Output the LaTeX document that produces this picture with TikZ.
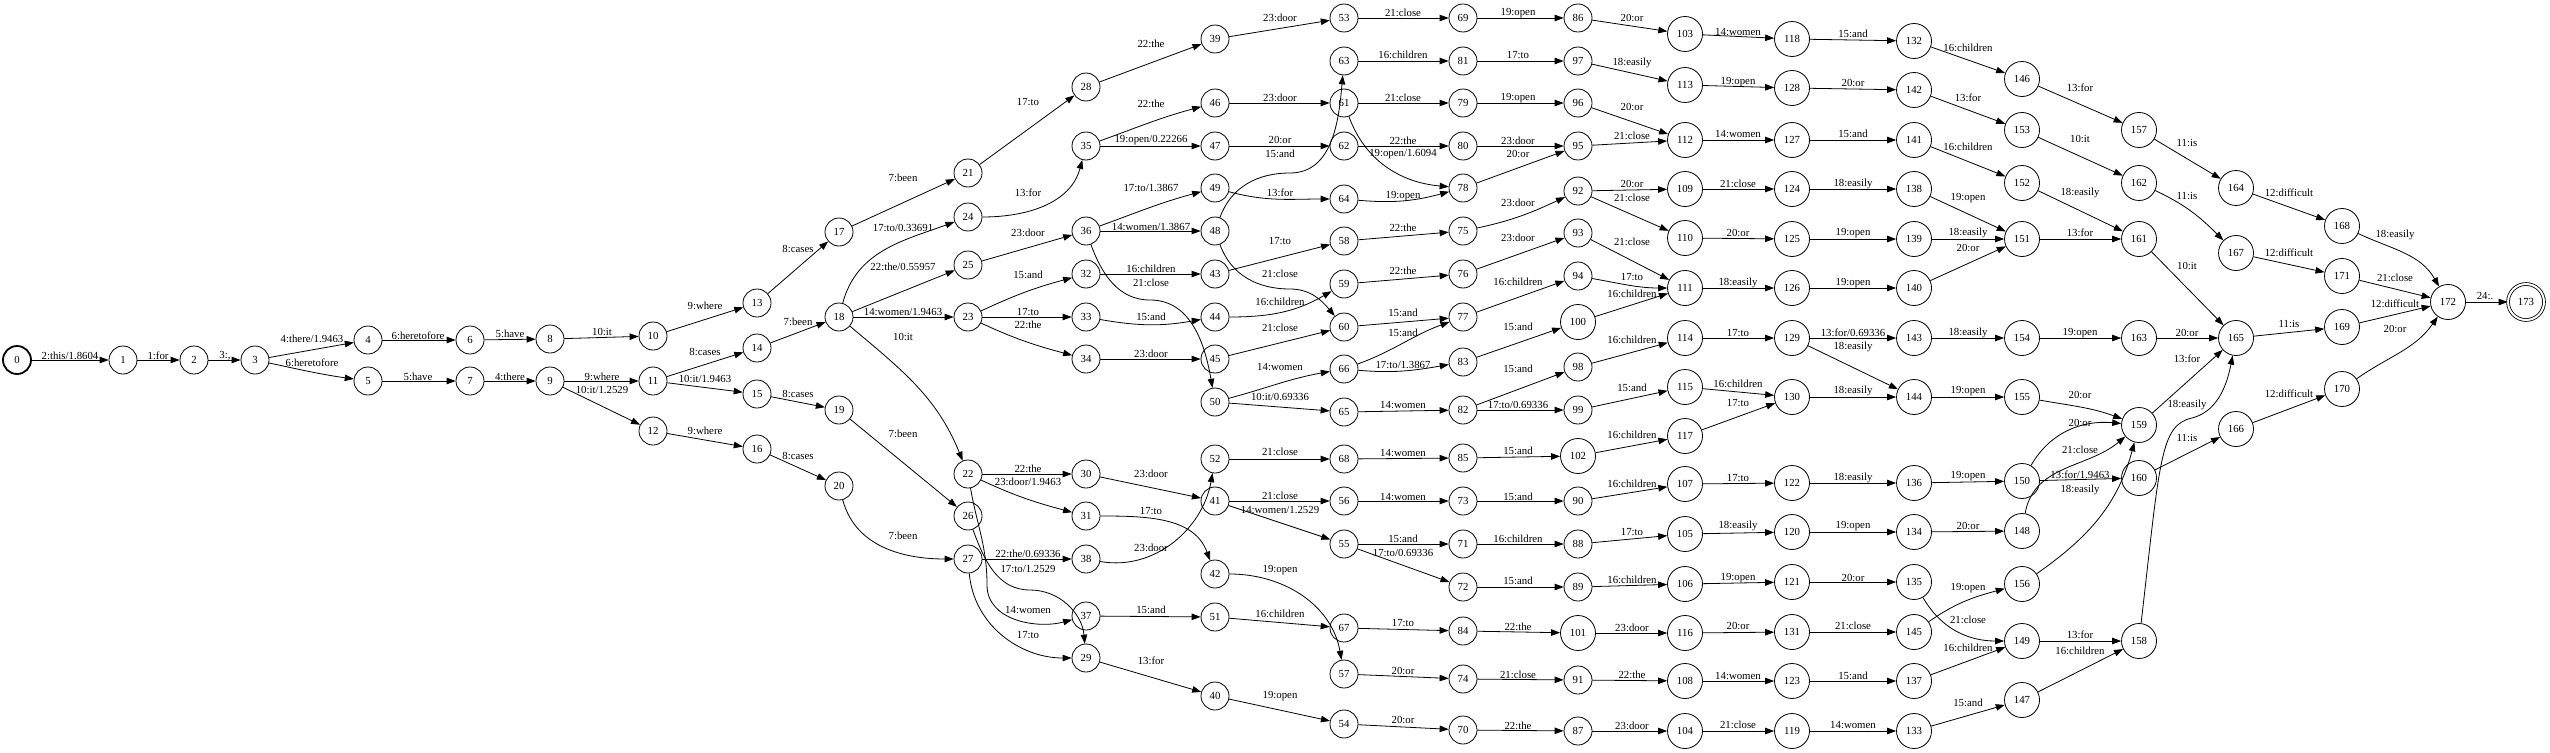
\documentclass[tikz,border=0pt]{standalone}
\usepackage{fontspec}
\setmainfont{Liberation Serif}
\usetikzlibrary{arrows.meta}
\newcommand\mkst[3]{\node[st] (n#1) at (#2,-#3) {#1};}
\newcommand\mkbig[3]{\node[st,minimum size=35pt] (n#1) at (#2,-#3) {#1};}
\newcommand\mklab[5]{\node[lab] (l#1x#2) at (#3,-#4) {#5};}
\newcommand\mked[5]{\draw[e] (n#1) -- (n#2); \mklab{#1}{#2}{#3}{#4}{#5}}
\newcommand\mkcur[6]{\draw[e] (n#1) to[#6] (n#2); \mklab{#1}{#2}{#3}{#4}{#5}}
\begin{document}
\begin{tikzpicture}[x=1pt,y=1pt,
  st/.style={circle,draw,line width=0.8pt,minimum size=28pt,inner sep=0pt,font=\fontsize{10.8}{12}\selectfont},
  lab/.style={inner sep=0pt,font=\fontsize{10.8}{12}\selectfont},
  e/.style={line width=0.8pt,-{Triangle[length=9pt,width=6.5pt]}}]
\useasboundingbox[fill=white] (0,0) rectangle (2550,-752);
% nodes
\node[st,line width=1.8pt] (n0) at (17,-360) {0};
\mkst{1}{123}{360}\mkst{2}{194}{360}\mkst{3}{255}{360}
\mkst{4}{368}{340}\mkst{5}{368}{381}
\mkst{6}{470}{340}\mkst{7}{470}{381}
\mkst{8}{550}{339}\mkst{9}{550}{381}
\mkst{10}{653}{336}\mkst{11}{653}{381}\mkst{12}{653}{431}
\mkst{13}{757}{303}\mkst{14}{757}{348}\mkst{15}{757}{394}\mkst{16}{757}{449}
\mkst{17}{839}{232}\mkst{18}{839}{317}\mkst{19}{839}{410}\mkst{20}{839}{486}
\mkst{21}{968}{173}\mkst{24}{968}{217}\mkst{25}{968}{265}\mkst{23}{968}{317}
\mkst{22}{968}{474}\mkst{26}{968}{516}\mkst{27}{968}{559}
\mkst{28}{1086}{87}\mkst{35}{1086}{146}\mkst{36}{1086}{231}\mkst{32}{1086}{274}
\mkst{33}{1086}{317}\mkst{34}{1086}{359}\mkst{30}{1086}{474}\mkst{31}{1086}{516}
\mkst{38}{1086}{559}\mkst{37}{1086}{616}\mkst{29}{1086}{658}
\mkst{39}{1215}{39}\mkst{46}{1215}{103}\mkst{47}{1215}{146}\mkst{49}{1215}{188}
\mkst{48}{1215}{231}\mkst{43}{1215}{274}\mkst{44}{1215}{317}\mkst{45}{1215}{359}
\mkst{50}{1215}{402}\mkst{52}{1215}{459}\mkst{41}{1215}{501}\mkst{42}{1215}{574}
\mkst{51}{1215}{617}\mkst{40}{1215}{696}
\mkst{53}{1344}{18}\mkst{63}{1344}{61}\mkst{61}{1344}{103}\mkst{62}{1344}{146}
\mkst{64}{1344}{199}\mkst{58}{1344}{241}\mkst{59}{1344}{284}\mkst{60}{1344}{327}
\mkst{66}{1344}{369}\mkst{65}{1344}{412}\mkst{68}{1344}{459}\mkst{56}{1344}{501}
\mkst{55}{1344}{544}\mkst{67}{1344}{628}\mkst{57}{1344}{674}\mkst{54}{1344}{724}
\mkst{69}{1463}{18}\mkst{81}{1463}{61}\mkst{79}{1463}{103}\mkst{80}{1463}{146}
\mkst{78}{1463}{188}\mkst{75}{1463}{231}\mkst{76}{1463}{274}\mkst{77}{1463}{317}
\mkst{83}{1463}{362}\mkst{82}{1463}{410}\mkst{85}{1463}{458}\mkst{73}{1463}{501}
\mkst{71}{1463}{544}\mkst{72}{1463}{587}\mkst{84}{1463}{631}\mkst{74}{1463}{679}
\mkst{70}{1463}{730}
\mkst{86}{1578}{18}\mkst{97}{1578}{61}\mkst{96}{1578}{103}\mkst{95}{1578}{146}
\mkst{92}{1578}{191}\mkst{93}{1578}{233}\mkst{94}{1578}{276}\mkbig{100}{1578}{322}
\mkst{98}{1578}{367}\mkst{99}{1578}{410}\mkbig{102}{1578}{456}\mkst{90}{1578}{501}
\mkst{88}{1578}{544}\mkst{89}{1578}{587}\mkbig{101}{1578}{633}\mkst{91}{1578}{680}
\mkst{87}{1578}{731}
\mkbig{103}{1685}{34}\mkbig{113}{1685}{85}\mkbig{112}{1685}{140}\mkbig{109}{1685}{189}
\mkbig{110}{1685}{238}\mkbig{111}{1685}{288}\mkbig{114}{1685}{338}\mkbig{115}{1685}{387}
\mkbig{117}{1685}{436}\mkbig{107}{1685}{484}\mkbig{105}{1685}{534}\mkbig{106}{1685}{584}
\mkbig{116}{1685}{633}\mkbig{108}{1685}{681}\mkbig{104}{1685}{731}
\mkbig{118}{1792}{39}\mkbig{128}{1792}{88}\mkbig{127}{1792}{140}\mkbig{124}{1792}{189}
\mkbig{125}{1792}{239}\mkbig{126}{1792}{288}\mkbig{129}{1792}{338}\mkbig{130}{1792}{397}
\mkbig{122}{1792}{483}\mkbig{120}{1792}{532}\mkbig{121}{1792}{582}\mkbig{131}{1792}{632}
\mkbig{123}{1792}{681}\mkbig{119}{1792}{731}
\mkbig{132}{1914}{41}\mkbig{142}{1914}{90}\mkbig{141}{1914}{140}\mkbig{138}{1914}{189}
\mkbig{139}{1914}{239}\mkbig{140}{1914}{288}\mkbig{143}{1914}{338}\mkbig{144}{1914}{397}
\mkbig{136}{1914}{483}\mkbig{134}{1914}{532}\mkbig{135}{1914}{582}\mkbig{145}{1914}{632}
\mkbig{137}{1914}{681}\mkbig{133}{1914}{731}
\mkbig{146}{2022}{79}\mkbig{153}{2022}{130}\mkbig{152}{2022}{183}\mkbig{151}{2022}{239}
\mkbig{154}{2022}{338}\mkbig{155}{2022}{397}\mkbig{150}{2022}{481}\mkbig{148}{2022}{531}
\mkbig{156}{2022}{584}\mkbig{149}{2022}{641}\mkbig{147}{2022}{700}
\mkbig{157}{2139}{130}\mkbig{162}{2139}{183}\mkbig{161}{2139}{239}\mkbig{163}{2139}{338}
\mkbig{159}{2139}{425}\mkbig{160}{2139}{478}\mkbig{158}{2139}{641}
\mkbig{164}{2236}{188}\mkbig{167}{2236}{253}\mkbig{165}{2236}{338}\mkbig{166}{2236}{429}
\mkbig{168}{2342}{226}\mkbig{171}{2342}{276}\mkbig{169}{2342}{327}\mkbig{170}{2342}{389}
\mkbig{172}{2448}{302}
\node[st,minimum size=36pt,double,double distance=2pt] (n173) at (2526,-302) {173};
% edges
\mked{0}{1}{70}{356}{2:this/1.8604}
\mked{1}{2}{158}{356}{1:for}
\mked{2}{3}{225}{356}{3:,}
\mked{3}{4}{312}{339}{4:there/1.9463}
\mkcur{3}{5}{312}{363}{6:heretofore}{out=-12,in=172}
\mked{4}{6}{418}{336}{6:heretofore}
\mked{5}{7}{418}{377}{5:have}
\mked{6}{8}{510}{334}{5:have}
\mked{7}{9}{510}{377}{4:there}
\mked{8}{10}{602}{332}{10:it}
\mked{9}{11}{602}{377}{9:where}
\mked{9}{12}{602}{390}{10:it/1.2529}
\mked{10}{13}{705}{306}{9:where}
\mked{11}{14}{705}{352}{8:cases}
\mked{11}{15}{705}{379}{10:it/1.9463}
\mked{12}{16}{705}{431}{9:where}
\mked{13}{17}{798}{249}{8:cases}
\mked{14}{18}{798}{322}{7:been}
\mked{15}{19}{798}{394}{8:cases}
\mked{16}{20}{798}{456}{8:cases}
\mked{17}{21}{903}{178}{7:been}
\mkcur{18}{24}{903}{228}{17:to/0.33691}{out=75,in=200}
\mked{18}{25}{903}{267}{22:the/0.55957}
\mked{18}{23}{903}{312}{14:women/1.9463}
\mkcur{18}{22}{903}{337}{10:it}{out=-40,in=112}
\mked{19}{26}{903}{434}{7:been}
\mkcur{20}{27}{903}{536}{7:been}{out=-75,in=180}
\mked{21}{28}{1028}{102}{17:to}
\mkcur{24}{35}{1028}{193}{13:for}{out=0,in=-105}
\mked{25}{36}{1028}{233}{23:door}
\mkcur{23}{32}{1028}{275}{15:and}{out=25,in=195}
\mked{23}{33}{1028}{312}{17:to}
\mkcur{23}{34}{1028}{325}{22:the}{out=-25,in=165}
\mked{22}{30}{1028}{469}{22:the}
\mkcur{22}{31}{1028}{482}{23:door/1.9463}{out=-25,in=165}
\mked{27}{38}{1028}{554}{22:the/0.69336}
\draw[e] (n26) to[out=-70,in=180] (1030,-590) to[out=0,in=95] (n29);
\mklab{26}{29}{1028}{569}{17:to/1.2529}
\draw[e] (n22) to[out=-80,in=90] (987,-585) to[out=-90,in=195] (n37);
\mklab{22}{37}{1028}{610}{14:women}
\mkcur{27}{29}{1028}{635}{17:to}{out=-85,in=180}
\mked{28}{39}{1151}{44}{22:the}
\mkcur{35}{46}{1151}{104}{22:the}{out=20,in=195}
\mked{35}{47}{1151}{140}{19:open/0.22266}
\mkcur{36}{49}{1151}{188}{17:to/1.3867}{out=20,in=195}
\mked{36}{48}{1151}{227}{14:women/1.3867}
\mked{32}{43}{1151}{269}{16:children}
\draw[e] (n36) to[out=-70,in=180] (1150,-300) to[out=0,in=100] (n50);
\mklab{36}{50}{1151}{283}{21:close}
\mkcur{33}{44}{1151}{317}{15:and}{out=-10,in=190}
\mked{34}{45}{1151}{354}{23:door}
\mked{30}{41}{1151}{474}{23:door}
\mkcur{31}{42}{1151}{511}{17:to}{out=0,in=110}
\mkcur{38}{52}{1151}{548}{23:door}{out=-10,in=-100}
\mked{37}{51}{1151}{610}{15:and}
\mked{29}{40}{1151}{661}{13:for}
\mked{39}{53}{1280}{18}{23:door}
\mked{46}{61}{1280}{98}{23:door}
\mked{47}{62}{1280}{140}{20:or}
\draw[e] (n48) to[out=70,in=180] (1290,-173) to[out=0,in=-95] (n63);
\mklab{48}{63}{1280}{154}{15:and}
\mkcur{49}{64}{1280}{193}{13:for}{out=-15,in=180}
\mked{43}{58}{1280}{241}{17:to}
\draw[e] (n48) to[out=-70,in=180] (1290,-289) to[out=0,in=130] (n60);
\mklab{48}{60}{1280}{274}{21:close}
\mkcur{44}{59}{1280}{302}{16:children}{out=0,in=210}
\mked{45}{60}{1280}{328}{21:close}
\mkcur{50}{66}{1280}{367}{14:women}{out=15,in=190}
\mked{50}{65}{1280}{397}{10:it/0.69336}
\mked{52}{68}{1280}{452}{21:close}
\mked{41}{56}{1280}{496}{21:close}
\mked{41}{55}{1280}{510}{14:women/1.2529}
\mkcur{42}{57}{1280}{570}{19:open}{out=0,in=100}
\mked{51}{67}{1280}{614}{16:children}
\mked{40}{54}{1280}{696}{19:open}
\mked{53}{69}{1403}{13}{21:close}
\mked{63}{81}{1403}{55}{16:children}
\mked{61}{79}{1403}{98}{21:close}
\mked{62}{80}{1403}{141}{22:the}
\mkcur{61}{78}{1403}{154}{19:open/1.6094}{out=-70,in=175}
\mkcur{64}{78}{1403}{196}{19:open}{out=-5,in=195}
\mked{58}{75}{1403}{228}{22:the}
\mked{59}{76}{1403}{271}{22:the}
\mked{60}{77}{1403}{313}{15:and}
\mkcur{66}{77}{1403}{333}{15:and}{out=20,in=200}
\mkcur{66}{83}{1403}{365}{17:to/1.3867}{out=-5,in=190}
\mked{65}{82}{1403}{405}{14:women}
\mked{68}{85}{1403}{453}{14:women}
\mked{56}{73}{1403}{497}{14:women}
\mked{55}{71}{1403}{539}{15:and}
\mked{55}{72}{1403}{553}{17:to/0.69336}
\mked{67}{84}{1403}{623}{17:to}
\mked{57}{74}{1403}{671}{20:or}
\mked{54}{70}{1403}{720}{20:or}
\mked{69}{86}{1518}{13}{19:open}
\mked{81}{97}{1518}{55}{17:to}
\mked{79}{96}{1518}{98}{19:open}
\mked{80}{95}{1518}{141}{23:door}
\mked{78}{95}{1518}{154}{20:or}
\mkcur{75}{92}{1518}{203}{23:door}{out=12,in=205}
\mked{76}{93}{1518}{238}{23:door}
\mked{77}{94}{1518}{282}{16:children}
\mked{83}{100}{1518}{327}{15:and}
\mked{82}{98}{1518}{369}{15:and}
\mked{82}{99}{1518}{405}{17:to/0.69336}
\mked{85}{102}{1518}{451}{15:and}
\mked{73}{90}{1518}{497}{15:and}
\mked{71}{88}{1518}{539}{16:children}
\mked{72}{89}{1518}{581}{15:and}
\mked{84}{101}{1518}{627}{22:the}
\mked{74}{91}{1518}{675}{21:close}
\mked{70}{87}{1518}{726}{22:the}
\mked{86}{103}{1632}{18}{20:or}
\mked{97}{113}{1632}{63}{18:easily}
\mked{96}{112}{1632}{107}{20:or}
\mked{95}{112}{1632}{136}{21:close}
\mked{92}{109}{1632}{184}{20:or}
\mked{92}{110}{1632}{198}{21:close}
\mked{93}{111}{1632}{242}{21:close}
\mkcur{94}{111}{1632}{277}{17:to}{out=-10,in=180}
\mked{100}{111}{1632}{294}{16:children}
\mked{98}{114}{1632}{340}{16:children}
\mked{99}{115}{1632}{388}{15:and}
\mked{102}{117}{1632}{435}{16:children}
\mked{90}{107}{1632}{484}{16:children}
\mked{88}{105}{1632}{532}{17:to}
\mked{89}{106}{1632}{580}{16:children}
\mked{101}{116}{1632}{628}{23:door}
\mked{91}{108}{1632}{675}{22:the}
\mked{87}{104}{1632}{726}{23:door}
\mked{103}{118}{1738}{32}{14:women}
\mked{113}{128}{1738}{82}{19:open}
\mked{112}{127}{1738}{134}{14:women}
\mked{109}{124}{1738}{184}{21:close}
\mked{110}{125}{1738}{233}{20:or}
\mked{111}{126}{1738}{283}{18:easily}
\mked{114}{129}{1738}{333}{17:to}
\mked{115}{130}{1738}{384}{16:children}
\mked{117}{130}{1738}{403}{17:to}
\mked{107}{122}{1738}{478}{17:to}
\mked{105}{120}{1738}{526}{18:easily}
\mked{106}{121}{1738}{578}{19:open}
\mked{116}{131}{1738}{626}{20:or}
\mked{108}{123}{1738}{676}{14:women}
\mked{104}{119}{1738}{725}{21:close}
\mked{118}{132}{1853}{34}{15:and}
\mked{128}{142}{1853}{83}{20:or}
\mked{127}{141}{1853}{134}{15:and}
\mked{124}{138}{1853}{184}{18:easily}
\mked{125}{139}{1853}{233}{19:open}
\mked{126}{140}{1853}{283}{19:open}
\mked{129}{143}{1853}{333}{13:for/0.69336}
\mked{129}{144}{1853}{347}{18:easily}
\mked{130}{144}{1853}{391}{18:easily}
\mked{122}{136}{1853}{478}{18:easily}
\mked{120}{134}{1853}{526}{19:open}
\mked{121}{135}{1853}{578}{20:or}
\mked{131}{145}{1853}{626}{21:close}
\mked{123}{137}{1853}{676}{15:and}
\mked{119}{133}{1853}{725}{14:women}
\mked{132}{146}{1968}{48}{16:children}
\mked{142}{153}{1968}{98}{13:for}
\mked{141}{152}{1968}{147}{16:children}
\mked{138}{151}{1968}{198}{19:open}
\mked{139}{151}{1968}{233}{18:easily}
\mked{140}{151}{1968}{248}{20:or}
\mked{143}{154}{1968}{333}{18:easily}
\mked{144}{155}{1968}{391}{19:open}
\mked{136}{150}{1968}{476}{19:open}
\mked{134}{148}{1968}{526}{20:or}
\mkcur{145}{156}{1968}{588}{19:open}{out=35,in=195}
\mkcur{135}{149}{1968}{620}{21:close}{out=-60,in=180}
\mked{137}{149}{1968}{648}{16:children}
\mked{133}{147}{1968}{703}{15:and}
\mked{146}{157}{2080}{88}{13:for}
\mked{153}{162}{2080}{139}{10:it}
\mked{152}{161}{2080}{193}{18:easily}
\mked{151}{161}{2080}{233}{13:for}
\mked{154}{163}{2080}{333}{19:open}
\mkcur{155}{159}{2080}{395}{20:or}{out=-10,in=160}
\mkcur{150}{159}{2080}{423}{20:or}{out=60,in=175}
\mkcur{148}{159}{2080}{450}{21:close}{out=80,in=220}
\mked{150}{160}{2080}{475}{13:for/1.9463}
\mkcur{156}{159}{2080}{490}{18:easily}{out=35,in=255}
\mked{149}{158}{2080}{635}{13:for}
\mked{147}{158}{2080}{651}{16:children}
\mked{157}{164}{2187}{143}{11:is}
\mkcur{162}{167}{2187}{196}{11:is}{out=-25,in=135}
\mked{161}{165}{2187}{266}{10:it}
\mked{163}{165}{2187}{333}{20:or}
\mked{159}{165}{2187}{359}{13:for}
\draw[e] (n158) .. controls (2160,-460) and (2160,-425) .. (2192,-418) .. controls (2215,-412) and (2226,-390) .. (n165);
\mklab{158}{165}{2187}{405}{18:easily}
\mked{160}{166}{2187}{438}{11:is}
\mked{164}{168}{2289}{193}{12:difficult}
\mked{167}{171}{2289}{253}{12:difficult}
\mked{165}{169}{2289}{324}{11:is}
\mked{166}{170}{2289}{394}{12:difficult}
\mkcur{168}{172}{2395}{235}{18:easily}{out=-25,in=120}
\mked{171}{172}{2395}{278}{21:close}
\mked{169}{172}{2395}{304}{12:difficult}
\mkcur{170}{172}{2395}{329}{20:or}{out=35,in=235}
\mked{172}{173}{2485}{296}{24:.}
\end{tikzpicture}
\end{document}
